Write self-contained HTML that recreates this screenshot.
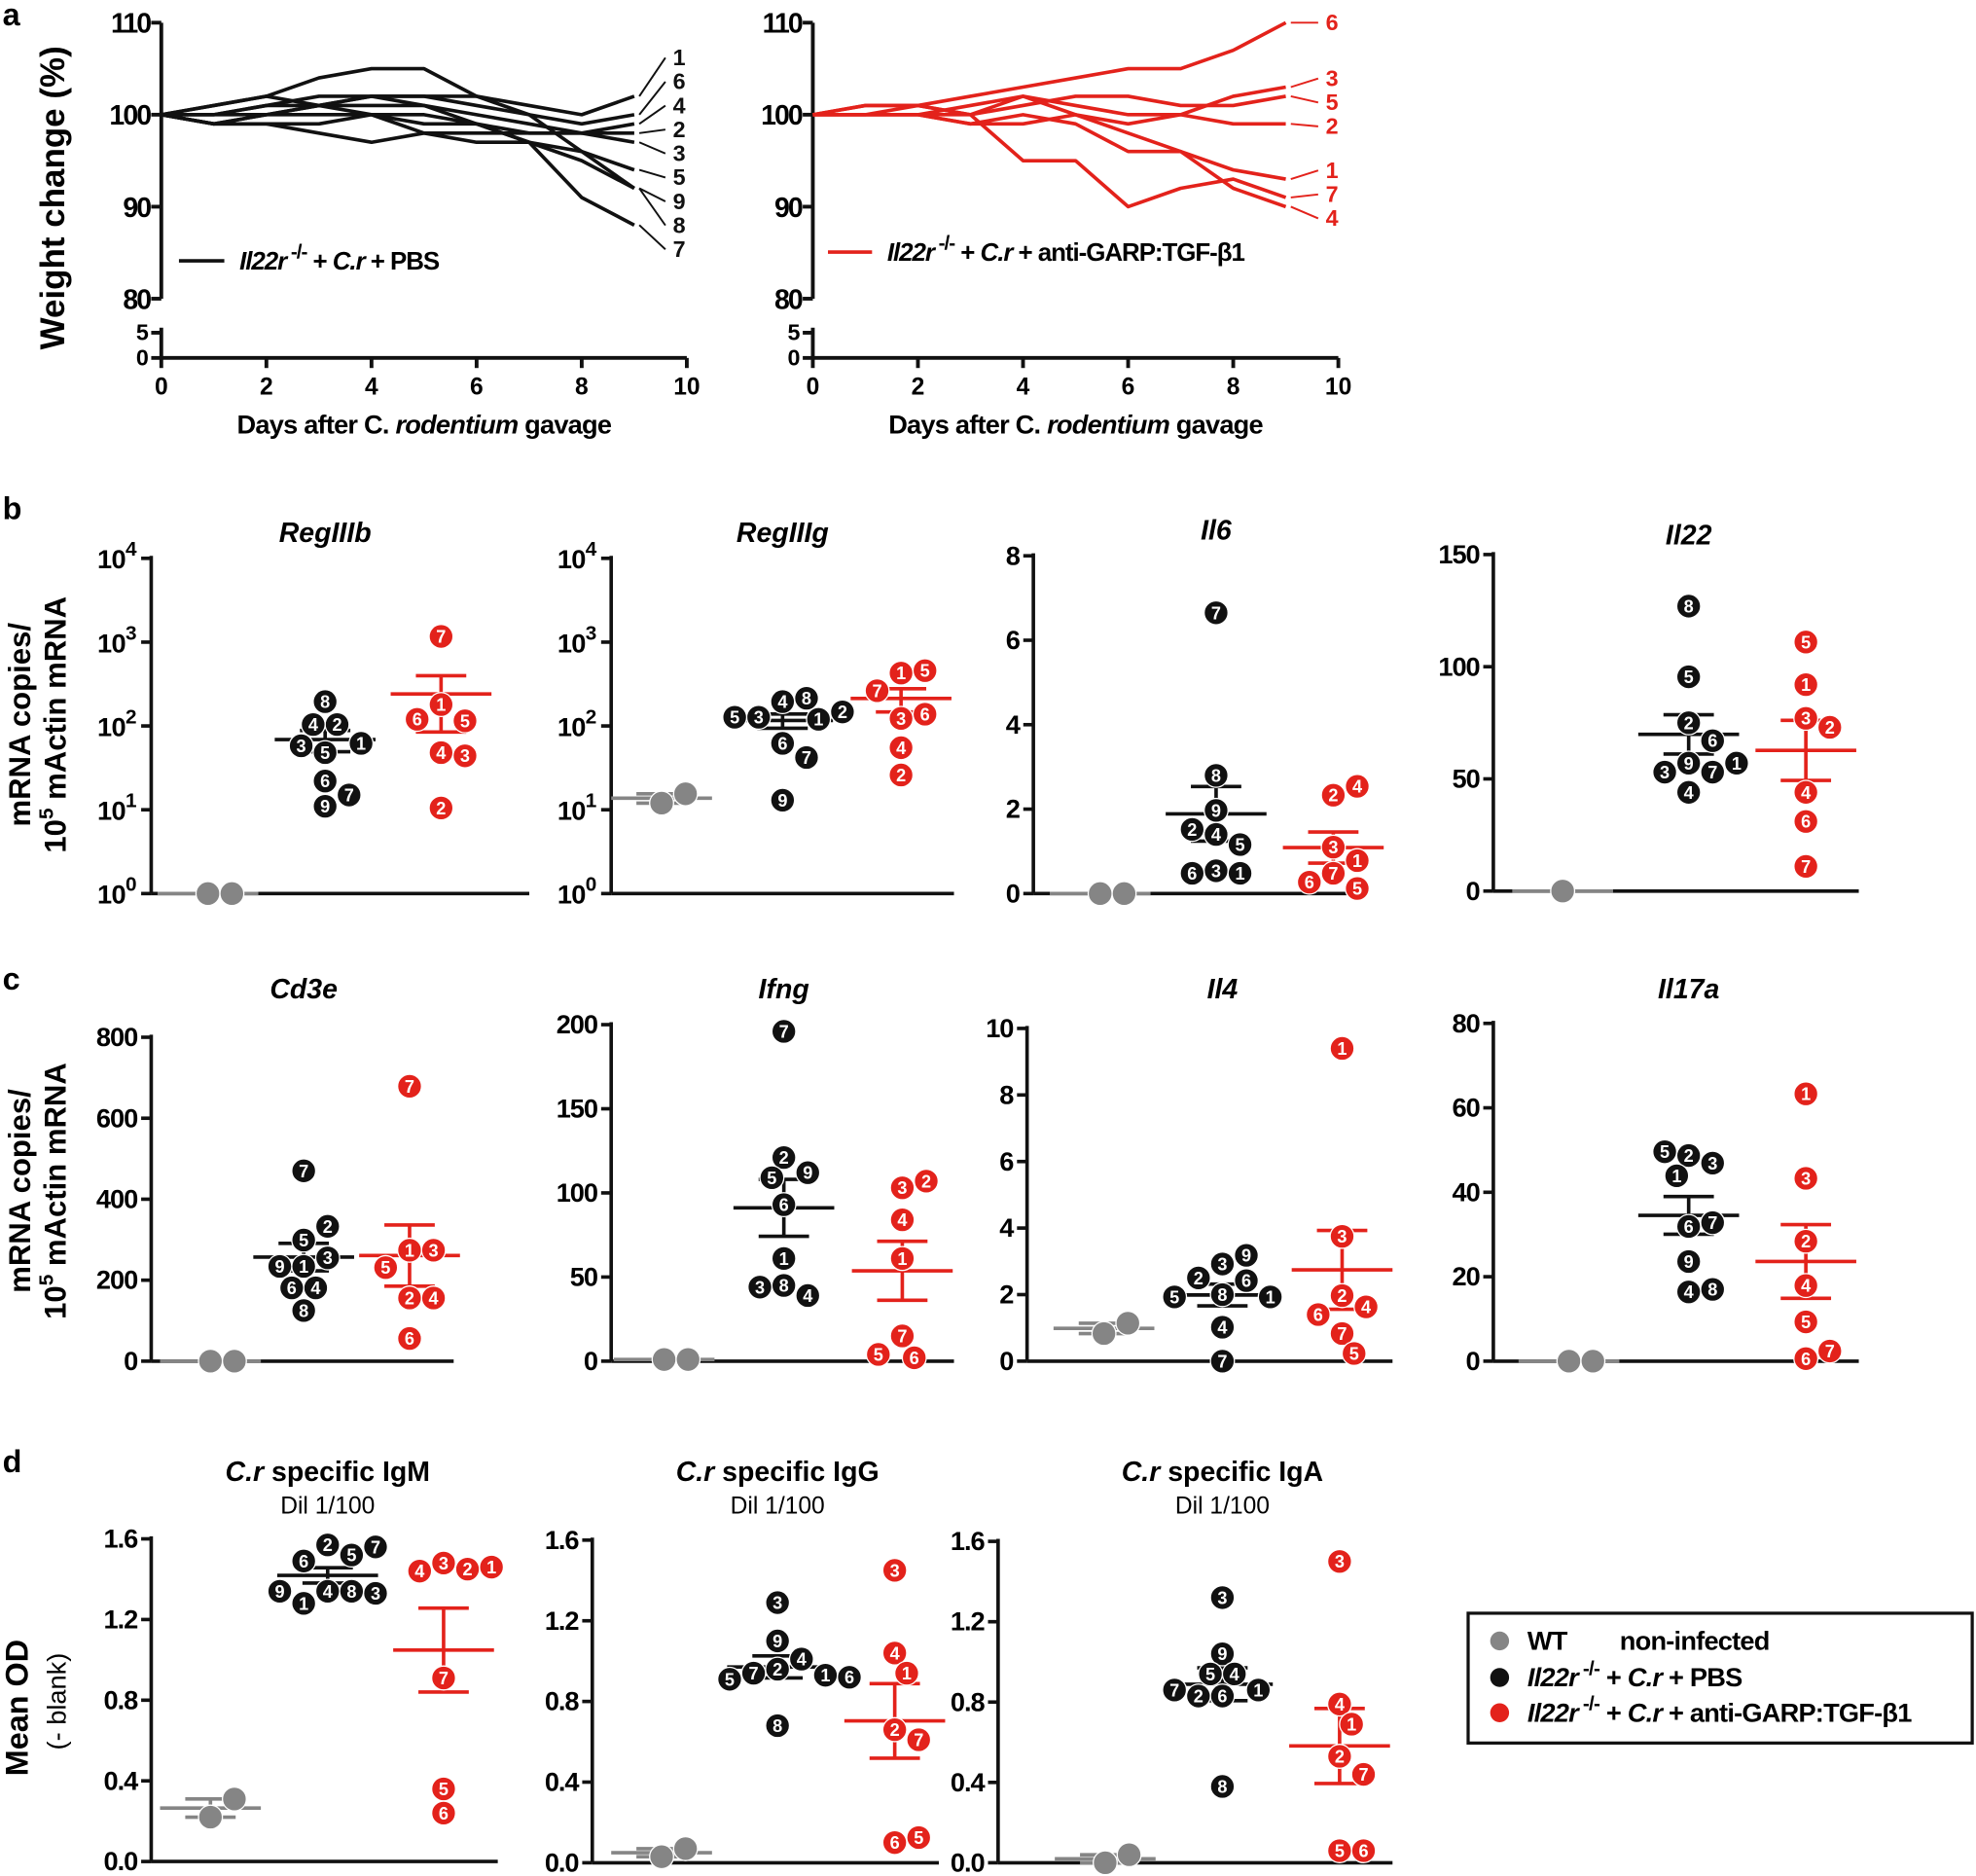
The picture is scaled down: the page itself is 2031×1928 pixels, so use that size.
<!DOCTYPE html>
<html><head><meta charset="utf-8"><style>
html,body{margin:0;padding:0;background:#fff;}
svg{display:block;font-family:"Liberation Sans",Arial,sans-serif;}
</style></head><body>
<svg id="fig" xmlns="http://www.w3.org/2000/svg" width="2031" height="1928" viewBox="0 0 1568 1488.5" preserveAspectRatio="none">
<rect x="0" y="0" width="1568" height="1488.5" fill="#fff"/>
</svg>
<script>
// ---------- Panel a data ----------
const days=[0,1,2,3,4,5,6,7,8,9];
const pbsIds=['1','6','4','2','3','5','9','8','7'];
const pbsWeights=[
[100,101,102,101,102,102,102,101,100,102],
[100,100,101,102,102,102,101,100,99,100],
[100,99,100,101,101,101,100,99,98,99],
[100,100,101,101,100,99,99,98,98,98],
[100,99,99,99,100,98,98,98,98,97],
[100,99,100,101,102,101,99,97,96,94],
[100,101,102,104,105,105,102,100,96,92],
[100,99,99,98,97,98,97,97,95,92],
[100,100,100,100,100,100,99,97,91,88]];
const garpIds=['6','3','5','2','1','7','4'];
const garpWeights=[
[100,101,101,102,103,104,105,105,107,110],
[100,100,100,101,102,101,100,100,102,103],
[100,100,101,100,101,102,102,101,101,102],
[100,100,100,99,99,100,99,100,99,99],
[100,101,101,100,102,100,98,96,94,93],
[100,100,100,100,95,95,90,92,93,91],
[100,100,100,99,100,99,96,96,92,90]];
const weightTicks=[80,90,100,110];
const lowTicks=[0,5];
const dayTicks=[0,2,4,6,8,10];

// ---------- Panel b/c/d data ----------
const regIIIbWT=[1,1];
const regIIIbPBS=[195,104,104,62,48,58,22,15,11];
const regIIIbPBSIds=['8','2','4','1','5','3','6','7','9'];
const regIIIbRed=[1170,180,115,120,48,44,10.5];
const regIIIbRedIds=['7','1','5','6','4','3','2'];
const regIIIgWT=[12,15.5];
const regIIIgPBS=[195,214,127,120,127,147,62,42,13];
const regIIIgPBSIds=['4','8','3','1','5','2','6','7','9'];
const regIIIgRed=[427,457,263,123,138,55,26];
const regIIIgRedIds=['1','5','7','3','6','4','2'];
const il6WT=[0,0];
const il6PBS=[6.65,2.8,1.97,1.4,1.16,1.52,0.54,0.48,0.48];
const il6PBSIds=['7','8','9','4','5','2','3','1','6'];
const il6Red=[2.33,2.54,1.1,0.78,0.48,0.27,0.12];
const il6RedIds=['2','4','3','1','7','6','5'];
const il22WT=[0];
const il22PBS=[127,95.5,75,67,57,53,53,57,44];
const il22PBSIds=['8','5','2','6','9','7','3','1','4'];
const il22Red=[111,92,77,73,44,31,11];
const il22RedIds=['5','1','3','2','4','6','7'];
const cd3eWT=[0,0];
const cd3ePBS=[470,299,333,234,255,234,181,181,125];
const cd3ePBSIds=['7','5','2','1','3','9','4','6','8'];
const cd3eRed=[679,274,274,231,156,156,56];
const cd3eRedIds=['7','1','3','5','2','4','6'];
const ifngWT=[1,1];
const ifngPBS=[196,121,112,109,93,61,45,39,44];
const ifngPBSIds=['7','2','9','5','6','1','8','4','3'];
const ifngRed=[103,107,84,61,15,2,4];
const ifngRedIds=['3','2','4','1','7','6','5'];
const il4WT=[0.83,1.14];
const il4PBS=[2.92,3.18,2.5,2.42,2.0,1.93,1.93,1.02,0];
const il4PBSIds=['3','9','2','6','8','1','5','4','7'];
const il4Red=[9.4,3.75,1.97,1.63,1.4,0.83,0.23];
const il4RedIds=['1','3','2','4','6','7','5'];
const il17aWT=[0,0];
const il17aPBS=[48.7,46.9,49.6,43.9,31.9,32.8,23.6,16.4,17];
const il17aPBSIds=['2','3','5','1','6','7','9','4','8'];
const il17aRed=[63.3,43.3,28.4,17.9,9.3,0.6,2.4];
const il17aRedIds=['1','3','2','4','5','6','7'];
const igmWT=[0.22,0.31];
const igmPBS=[1.57,1.52,1.49,1.56,1.34,1.34,1.28,1.33,1.34];
const igmPBSIds=['2','5','6','7','4','8','1','3','9'];
const igmRed=[1.48,1.45,1.44,1.46,0.91,0.36,0.24];
const igmRedIds=['3','2','4','1','7','5','6'];
const iggWT=[0.03,0.07];
const iggPBS=[1.29,1.1,1.01,0.96,0.94,0.93,0.91,0.92,0.68];
const iggPBSIds=['3','9','4','2','7','1','5','6','8'];
const iggRed=[1.45,1.04,0.94,0.66,0.61,0.1,0.125];
const iggRedIds=['3','4','1','2','7','6','5'];
const igaWT=[0.0,0.04];
const igaPBS=[1.32,1.04,0.94,0.94,0.86,0.83,0.83,0.86,0.38];
const igaPBSIds=['3','9','4','5','1','6','2','7','8'];
const igaRed=[1.5,0.79,0.69,0.53,0.44,0.06,0.06];
const igaRedIds=['3','4','1','2','7','5','6'];
const logTickExps=[0,1,2,3,4];
const il6Ticks=[0,2,4,6,8];
const il22Ticks=[0,50,100,150];
const cd3eTicks=[0,200,400,600,800];
const ifngTicks=[0,50,100,150,200];
const il4Ticks=[0,2,4,6,8,10];
const il17aTicks=[0,20,40,60,80];
const odTicks=[0,0.4,0.8,1.2,1.6];

// ---------- helpers ----------
const NS='http://www.w3.org/2000/svg';
const svg=document.getElementById('fig');
const BLACK='#111', RED='#e3221b', GRAY='#858585';
function mk(tag,attrs,parent){const e=document.createElementNS(NS,tag);for(const k in attrs)e.setAttribute(k,attrs[k]);(parent||svg).appendChild(e);return e;}
function grp(name){const g=mk('g',{});


return g;}
function T(x,y,s,attrs,parent,name){const t=mk('text',Object.assign({x:x,y:y},attrs),parent);t.textContent=s;


return t;}
function L(x1,y1,x2,y2,color,w,parent,name){const l=mk('line',{x1:x1,y1:y1,x2:x2,y2:y2,stroke:color,'stroke-width':w},parent);


return l;}

// panel letters
[['a',2,20],['b',2,412],['c',2,785],['d',2,1168]].forEach(p=>{T(p[1],p[2],p[0],{'font-size':25,'font-weight':'bold'},svg,'panel-letter-'+p[0]);});

// ---------- Panel a ----------
function weightPanel(ox,lineCol,ids,series,labelX,name,legendLine,legendTextY){
 const g=grp(name);
 const x0=ox, x1=ox+417;
 const ax=d=>x0+d*(x1-x0)/10;
 const ay=v=>91-(v-100)*7.3;
 const ayLow=v=>284-v*4;
 L(x0,ay(110),x0,ay(80),BLACK,3,g,'y-axis-upper');
 L(x0,ayLow(5)-4,x0,284,BLACK,3,g,'y-axis-lower');
 L(x0,284,x1,284,BLACK,3,g,'x-axis');
 weightTicks.forEach(v=>{L(x0-8,ay(v),x0,ay(v),BLACK,3,g,'y-tick');T(x0-9,ay(v)+8,String(v),{'font-size':22,'font-weight':'bold','text-anchor':'end','letter-spacing':-1.5},g,'y-tick-label');});
 lowTicks.forEach(v=>{L(x0-8,ayLow(v),x0,ayLow(v),BLACK,3,g,'y-tick');T(x0-10,ayLow(v)+6,String(v),{'font-size':18,'font-weight':'bold','text-anchor':'end'},g,'y-tick-label');});
 dayTicks.forEach(d=>{L(ax(d),284,ax(d),292,BLACK,3,g,'x-tick');T(ax(d),313,String(d),{'font-size':19,'font-weight':'bold','text-anchor':'middle'},g,'x-tick-label');});
 const ends=[];
 series.forEach((s,i)=>{
  const pts=s.map((v,k)=>ax(days[k])+','+ay(v)).join(' ');
  const pl=mk('polyline',{points:pts,fill:'none',stroke:lineCol,'stroke-width':2.8,'stroke-linejoin':'round'},g);
  
  
  ends.push({i:i,y:ay(s[s.length-1]),ly:ay(s[s.length-1])});
 });
 ends.sort((a,b)=>a.y-b.y);
 for(let it=0;it<200;it++){for(let k=1;k<ends.length;k++){const gap=ends[k].ly-ends[k-1].ly;if(gap<19){const d=(19-gap)/2;ends[k].ly+=d;ends[k-1].ly-=d;}}}
 ends.forEach(e=>{
  L(ax(9)+4,e.y,labelX-6,e.ly,lineCol,1.5,g,'leader-line');
  T(labelX,e.ly+6,ids[e.i],{'font-size':18,'font-weight':'bold',fill:lineCol},g,'line-label-'+ids[e.i]);
 });
 L(legendLine[0],legendTextY-7,legendLine[1],legendTextY-7,lineCol,2.8,g,'legend-line');
 const lt=T(legendLine[1]+12,legendTextY,'',{'font-size':20,'font-weight':'bold','letter-spacing':-0.8},g,'legend-text');
 lt.innerHTML='<tspan font-style="italic">Il22r</tspan><tspan font-size="16" dy="-9"> -/-</tspan><tspan dy="9"> + </tspan><tspan font-style="italic">C.r</tspan><tspan>'+(lineCol===RED?' + anti-GARP:TGF-β1':' + PBS')+'</tspan>';
 const xt=T((x0+x1)/2,344,'',{'font-size':21,'font-weight':'bold','text-anchor':'middle','letter-spacing':-0.6},g,'x-axis-title');
 xt.innerHTML='Days after C. <tspan font-style="italic">rodentium</tspan> gavage';
}
weightPanel(128,BLACK,pbsIds,pbsWeights,534,'weight-panel-pbs',[142,178],214);
weightPanel(645,RED,garpIds,garpWeights,1052,'weight-panel-garp',[657,692],207);
T(0,0,'Weight change (%)',{'font-size':27,'font-weight':'bold','text-anchor':'middle',transform:'translate(51,157) rotate(-90)'},svg,'y-axis-title-weight');

// ---------- scatter panels ----------
function swarm(vals,ids,cx,yf,color,g,prefix,r){
 const d=2*r, placed=[];
 const cands=[0,0.5,-0.5,1,-1,1.5,-1.5,2,-2,2.5,-2.5,3,-3,3.5,-3.5];
 vals.forEach((v,i)=>{
  const y=yf(v);let x=cx;
  for(const k of cands){const tx=cx+k*d;if(placed.every(p=>Math.hypot(p[0]-tx,p[1]-y)>=d*0.97)){x=tx;break;}}
  placed.push([x,y]);
  const c=mk('circle',{cx:x,cy:y,r:r,fill:color,stroke:'#fff','stroke-width':1},g);
  
  
  if(ids){T(x,y+5,ids[i],{'font-size':14,'font-weight':'bold',fill:'#fff','text-anchor':'middle'},g,prefix+'-point-label');}
 });
}
function meanSem(vals,cx,yf,color,g,prefix){
 const n=vals.length, m=vals.reduce((a,b)=>a+b,0)/n;
 const sd=Math.sqrt(vals.reduce((a,b)=>a+(b-m)*(b-m),0)/Math.max(1,n-1));
 const se=n>1?sd/Math.sqrt(n):0;
 const ym=yf(m), yt=yf(m+se), yb=yf(Math.max(m-se,1e-9));
 L(cx-40,ym,cx+40,ym,color,2.8,g,prefix+'-mean-line');
 if(se>0){L(cx,yt,cx,yb,color,2.8,g,prefix+'-sem-bar');L(cx-20,yt,cx+20,yt,color,2.8,g,prefix+'-sem-cap-top');L(cx-20,yb,cx+20,yb,color,2.8,g,prefix+'-sem-cap-bottom');}
}
function scatterPanel(cfg){
 const g=grp(cfg.name);
 const yf=cfg.log?(v=>cfg.yb-Math.log10(Math.max(v,1))*(cfg.yb-cfg.yt)/4):(v=>cfg.yb-(v-cfg.min)*(cfg.yb-cfg.yt)/(cfg.max-cfg.min));
 L(cfg.x0,cfg.yt-2,cfg.x0,cfg.yb,BLACK,2.8,g,'y-axis');
 L(cfg.x0,cfg.yb,cfg.x1,cfg.yb,BLACK,2.8,g,'x-axis');
 if(cfg.log){
  logTickExps.forEach(e=>{const y=cfg.yb-e*(cfg.yb-cfg.yt)/4;L(cfg.x0-8,y,cfg.x0,y,BLACK,2.8,g,'y-tick');
   const t=T(cfg.x0-12,y+8,'',{'font-size':21,'font-weight':'bold','text-anchor':'end','letter-spacing':-0.5},g,'y-tick-label');
   t.innerHTML='10<tspan font-size="16" dy="-10">'+e+'</tspan>';});
 } else {
  cfg.ticks.forEach(v=>{const y=yf(v);L(cfg.x0-8,y,cfg.x0,y,BLACK,2.8,g,'y-tick');
   T(cfg.x0-11,y+7,cfg.fixed?v.toFixed(1):String(v),{'font-size':21,'font-weight':'bold','text-anchor':'end','letter-spacing':-0.8},g,'y-tick-label');});
 }
 const tt=T(cfg.cx[1],cfg.titleY,'',{'font-size':22,'font-weight':'bold','text-anchor':'middle'},g,'panel-title');
 tt.innerHTML=cfg.title;
 if(cfg.sub){T(cfg.cx[1],cfg.titleY+26,cfg.sub,{'font-size':19,'text-anchor':'middle'},g,'panel-subtitle');}
 meanSem(cfg.wt,cfg.cx[0],yf,GRAY,g,'wt');
 meanSem(cfg.pbs,cfg.cx[1],yf,BLACK,g,'pbs');
 meanSem(cfg.red,cfg.cx[2],yf,RED,g,'garp');
 swarm(cfg.wt,null,cfg.cx[0],yf,GRAY,g,'wt',9.5);
 swarm(cfg.pbs,cfg.pbsIds,cfg.cx[1],yf,BLACK,g,'pbs',9.5);
 swarm(cfg.red,cfg.redIds,cfg.cx[2],yf,RED,g,'garp',9.5);
}
const it=s=>'<tspan font-style="italic">'+s+'</tspan>';
scatterPanel({name:'panel-regIIIb',x0:120,x1:420,yt:443,yb:709,log:true,cx:[165,258,350],title:it('RegIIIb'),titleY:430,wt:regIIIbWT,pbs:regIIIbPBS,pbsIds:regIIIbPBSIds,red:regIIIbRed,redIds:regIIIbRedIds});
scatterPanel({name:'panel-regIIIg',x0:485,x1:757,yt:443,yb:709,log:true,cx:[525,621,715],title:it('RegIIIg'),titleY:430,wt:regIIIgWT,pbs:regIIIgPBS,pbsIds:regIIIgPBSIds,red:regIIIgRed,redIds:regIIIgRedIds});
scatterPanel({name:'panel-il6',x0:820,x1:1075,yt:441,yb:709,min:0,max:8,ticks:il6Ticks,cx:[873,965,1058],title:it('Il6'),titleY:428,wt:il6WT,pbs:il6PBS,pbsIds:il6PBSIds,red:il6Red,redIds:il6RedIds});
scatterPanel({name:'panel-il22',x0:1185,x1:1475,yt:440,yb:707,min:0,max:150,ticks:il22Ticks,cx:[1240,1340,1433],title:it('Il22'),titleY:432,wt:il22WT,pbs:il22PBS,pbsIds:il22PBSIds,red:il22Red,redIds:il22RedIds});
scatterPanel({name:'panel-cd3e',x0:120,x1:360,yt:823,yb:1080,min:0,max:800,ticks:cd3eTicks,cx:[167,241,325],title:it('Cd3e'),titleY:792,wt:cd3eWT,pbs:cd3ePBS,pbsIds:cd3ePBSIds,red:cd3eRed,redIds:cd3eRedIds});
scatterPanel({name:'panel-ifng',x0:485,x1:757,yt:813,yb:1080,min:0,max:200,ticks:ifngTicks,cx:[527,622,716],title:it('Ifng'),titleY:792,wt:ifngWT,pbs:ifngPBS,pbsIds:ifngPBSIds,red:ifngRed,redIds:ifngRedIds});
scatterPanel({name:'panel-il4',x0:815,x1:1105,yt:816,yb:1080,min:0,max:10,ticks:il4Ticks,cx:[876,970,1065],title:it('Il4'),titleY:792,wt:il4WT,pbs:il4PBS,pbsIds:il4PBSIds,red:il4Red,redIds:il4RedIds});
scatterPanel({name:'panel-il17a',x0:1185,x1:1475,yt:812,yb:1080,min:0,max:80,ticks:il17aTicks,cx:[1245,1340,1433],title:it('Il17a'),titleY:792,wt:il17aWT,pbs:il17aPBS,pbsIds:il17aPBSIds,red:il17aRed,redIds:il17aRedIds});
scatterPanel({name:'panel-igm',x0:120,x1:395,yt:1221,yb:1477,min:0,max:1.6,ticks:odTicks,fixed:true,cx:[167,260,352],title:it('C.r')+' specific IgM',sub:'Dil 1/100',titleY:1175,wt:igmWT,pbs:igmPBS,pbsIds:igmPBSIds,red:igmRed,redIds:igmRedIds});
scatterPanel({name:'panel-igg',x0:470,x1:745,yt:1222,yb:1478,min:0,max:1.6,ticks:odTicks,fixed:true,cx:[525,617,710],title:it('C.r')+' specific IgG',sub:'Dil 1/100',titleY:1175,wt:iggWT,pbs:iggPBS,pbsIds:iggPBSIds,red:iggRed,redIds:iggRedIds});
scatterPanel({name:'panel-iga',x0:792,x1:1105,yt:1223,yb:1478,min:0,max:1.6,ticks:odTicks,fixed:true,cx:[877,970,1063],title:it('C.r')+' specific IgA',sub:'Dil 1/100',titleY:1175,wt:igaWT,pbs:igaPBS,pbsIds:igaPBSIds,red:igaRed,redIds:igaRedIds});

// y-axis titles rows b, c, d
[['b',575],['c',945]].forEach(r=>{
 T(0,0,'mRNA copies/',{'font-size':24,'font-weight':'bold','text-anchor':'middle',transform:'translate(24,'+r[1]+') rotate(-90)'},svg,'y-axis-title-row-'+r[0]);
 const t=T(0,0,'',{'font-size':24,'font-weight':'bold','text-anchor':'middle',transform:'translate(52,'+r[1]+') rotate(-90)'},svg,'y-axis-title2-row-'+r[0]);
 t.innerHTML='10<tspan font-size="16" dy="-10">5</tspan><tspan dy="10"> mActin mRNA</tspan>';
});
T(0,0,'Mean OD',{'font-size':25,'font-weight':'bold','text-anchor':'middle',transform:'translate(22,1355) rotate(-90)'},svg,'y-axis-title-row-d');
T(0,0,'(- blank)',{'font-size':21,'text-anchor':'middle',transform:'translate(52,1350) rotate(-90)'},svg,'y-axis-subtitle-row-d');

// legend
const lg=grp('legend');
const lb=mk('rect',{x:1165,y:1280,width:400,height:103,fill:'none',stroke:BLACK,'stroke-width':2.5},lg);


[[GRAY,1302,'WT&#160;&#160;&#160;&#160;&#160;&#160;&#160;&#160;non-infected','legend-entry-wt'],[BLACK,1331,it('Il22r')+'<tspan font-size="16" dy="-9"> -/-</tspan><tspan dy="9"> + </tspan>'+it('C.r')+' + PBS','legend-entry-pbs'],[RED,1359,it('Il22r')+'<tspan font-size="16" dy="-9"> -/-</tspan><tspan dy="9"> + </tspan>'+it('C.r')+' + anti-GARP:TGF-β1','legend-entry-garp']].forEach(e=>{
 const c=mk('circle',{cx:1190,cy:e[1],r:7.5,fill:e[0]},lg);
 
 
 const t=T(1212,e[1]+7,'',{'font-size':21,'font-weight':'bold','letter-spacing':-0.6},lg,e[3]);
 t.innerHTML=e[2];
});
</script>
</body></html>
